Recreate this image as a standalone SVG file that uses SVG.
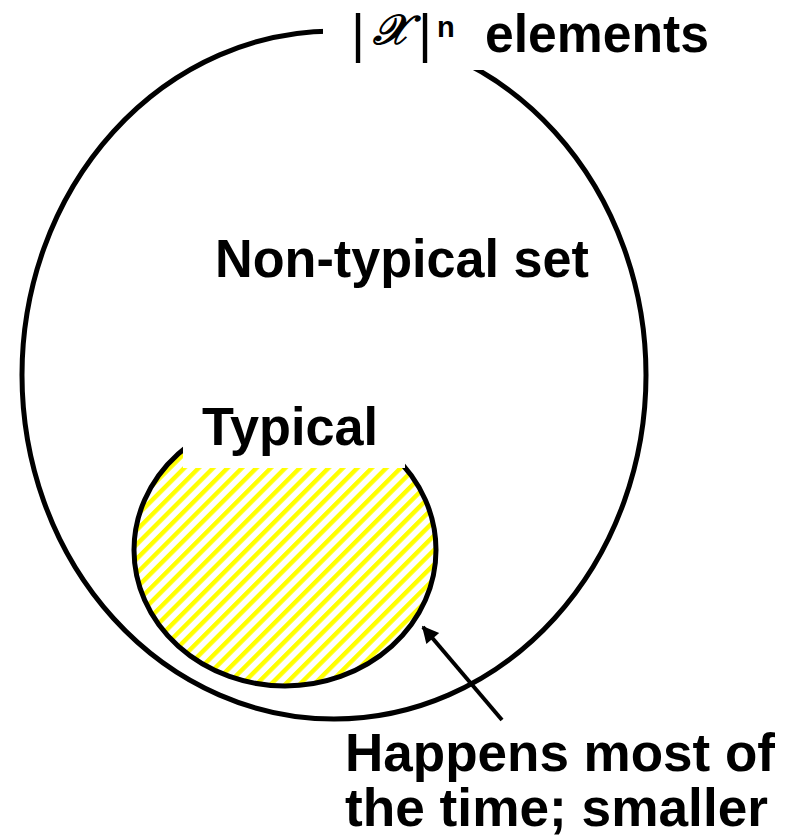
<svg xmlns="http://www.w3.org/2000/svg" width="796" height="838" viewBox="0 0 796 838">
  <style>
    .lbl { font-family: "Liberation Sans", Arial, sans-serif; font-weight: bold; font-size: 53px; fill: #000; }
    .outline { fill: none; stroke: #000; stroke-width: 5; }
    .mask { fill: #fff; stroke: none; }
  </style>
  <defs>
    <pattern id="hatch" patternUnits="userSpaceOnUse" width="10.2" height="10.2" patternTransform="rotate(45)">
      <rect x="0" y="0" width="10.2" height="10.2" fill="#fff"/>
      <rect x="0" y="0" width="4.4" height="10.2" fill="#ffff00"/>
    </pattern>
    <marker id="arrow" viewBox="0 0 10 10" refX="9" refY="5" markerWidth="4.6" markerHeight="4.2" markerUnits="strokeWidth" orient="auto">
      <path d="M0,0 L10,5 L0,10 z" fill="#000"/>
    </marker>
  </defs>
  <rect width="796" height="838" fill="#fff"/>

  <g id="universe">
    <ellipse class="outline" cx="334" cy="375" rx="312" ry="344"/>
    <rect class="mask" x="323" y="0" width="395" height="70"/>
    <text class="lbl">
      <tspan x="351" y="52" font-weight="normal" font-size="54">|</tspan><tspan x="373" y="44" font-family="DejaVu Serif, 'Liberation Serif', serif" font-style="italic" font-weight="normal" font-size="42" stroke="#000" stroke-width="1.4">𝒳</tspan><tspan x="418" y="52" font-weight="normal" font-size="54">|</tspan><tspan x="437" y="37" font-size="29">n</tspan><tspan x="485" y="52" textLength="224" lengthAdjust="spacingAndGlyphs">elements</tspan>
    </text>
  </g>

  <g id="nontypical-label">
    <text class="lbl" x="215" y="277" textLength="374" lengthAdjust="spacingAndGlyphs">Non-typical set</text>
  </g>

  <g id="typical">
    <ellipse cx="285" cy="550" rx="151" ry="136" fill="url(#hatch)" stroke="#000" stroke-width="5"/>
    <rect class="mask" x="183" y="380" width="222" height="88"/>
    <text class="lbl" x="202" y="445" textLength="176" lengthAdjust="spacingAndGlyphs">Typical</text>
  </g>

  <g id="connectors">
    <line x1="502" y1="720" x2="423" y2="627" stroke="#000" stroke-width="4" marker-end="url(#arrow)"/>
  </g>

  <g id="note">
    <text class="lbl" x="345" y="771" textLength="430" lengthAdjust="spacingAndGlyphs">Happens most of</text>
    <text class="lbl" x="345" y="826" textLength="423" lengthAdjust="spacingAndGlyphs">the time; smaller</text>
  </g>
</svg>
